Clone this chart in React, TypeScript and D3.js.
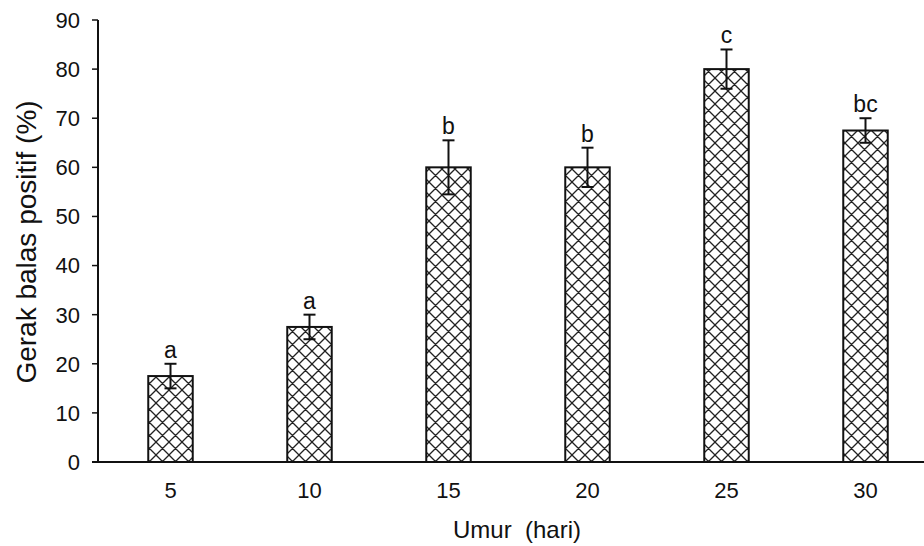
import React from "react";
import * as d3 from "d3";

const categories = ["5", "10", "15", "20", "25", "30"];
const values = [17.5, 27.5, 60, 60, 80, 67.5];
const errors = [2.5, 2.5, 5.5, 4, 4, 2.5];
const letters = ["a", "a", "b", "b", "c", "bc"];
const yTicks = [0, 10, 20, 30, 40, 50, 60, 70, 80, 90];

export default function App() {
  const W = 924, H = 546;
  const axisX = 98;
  const x = d3.scaleBand().domain(categories).range([101, 935]).paddingInner(0.68).paddingOuter(0.34);
  const y = d3.scaleLinear().domain([0, 90]).range([462, 20]);
  const font = "Liberation Sans, Arial, sans-serif";
  return (
    <svg width={W} height={H} style={{ position: "absolute", left: 0, top: 0 }} fontFamily={font}>
      <defs>
        <pattern id="hatch" patternUnits="userSpaceOnUse" width={13} height={13}>
          <rect width={13} height={13} fill="white" />
          <path d="M0,0 L13,13 M13,0 L0,13 M-3,10 L3,16 M10,-3 L16,3 M-3,3 L3,-3 M10,16 L16,10" stroke="#222" strokeWidth={1.3} />
        </pattern>
      </defs>
      <rect width={W} height={H} fill="white" />
      {values.map((v, i) => {
        const cx = (x(categories[i]) as number) + x.bandwidth() / 2;
        return (
          <g key={i}>
            <rect x={x(categories[i])} y={y(v)} width={x.bandwidth()} height={y(0) - y(v)} fill="url(#hatch)" stroke="#111" strokeWidth={2} />
            <line x1={cx} x2={cx} y1={y(v + errors[i])} y2={y(v - errors[i])} stroke="#111" strokeWidth={2} />
            <line x1={cx - 6} x2={cx + 6} y1={y(v + errors[i])} y2={y(v + errors[i])} stroke="#111" strokeWidth={2} />
            <line x1={cx - 6} x2={cx + 6} y1={y(v - errors[i])} y2={y(v - errors[i])} stroke="#111" strokeWidth={2} />
            <text x={cx} y={y(v + errors[i]) - 6} textAnchor="middle" fontSize={23} fill="#111">{letters[i]}</text>
            <text x={cx} y={498} textAnchor="middle" fontSize={22} fill="#111">{categories[i]}</text>
          </g>
        );
      })}
      <line x1={axisX} x2={axisX} y1={y(90)} y2={y(0)} stroke="#111" strokeWidth={2} />
      <line x1={92} x2={924} y1={y(0)} y2={y(0)} stroke="#111" strokeWidth={2} />
      {yTicks.map(t => (
        <g key={t}>
          <line x1={92} x2={axisX} y1={y(t)} y2={y(t)} stroke="#111" strokeWidth={1.5} />
          <text x={80} y={y(t)} dy="0.36em" textAnchor="end" fontSize={22} fill="#111">{t}</text>
        </g>
      ))}
      <text transform={`translate(36,${242}) rotate(-90)`} textAnchor="middle" fontSize={28} fill="#111">Gerak balas positif (%)</text>
      <text x={517} y={538} textAnchor="middle" fontSize={24} fill="#111" style={{ whiteSpace: "pre" }}>{"Umur  (hari)"}</text>
    </svg>
  );
}
